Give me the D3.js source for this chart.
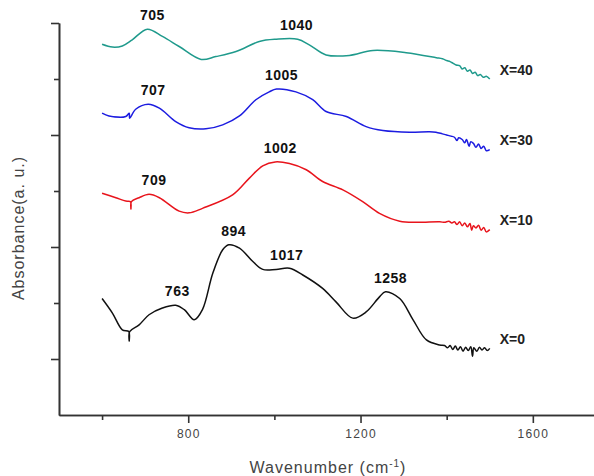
<!DOCTYPE html>
<html>
<head>
<meta charset="utf-8">
<script src="https://cdn.jsdelivr.net/npm/d3@7"></script>
<style>
  body { margin: 0; background: #fff; }
  svg { display: block; font-family: Arial, 'Liberation Sans', sans-serif; }
</style>
</head>
<body>
<script>
// DATA: wavenumber (cm-1) and absorbance (a.u., stacked offsets)
const wave40 = [600, 624, 647, 670, 705, 740, 779, 830, 864, 911, 965, 1004, 1054, 1081, 1120, 1174, 1229, 1306, 1376, 1390, 1400, 1408, 1415, 1422, 1430, 1436, 1442, 1448, 1454, 1460, 1466, 1472, 1478, 1485, 1492, 1500];
const abs40 = [6.62, 6.57, 6.59, 6.70, 6.89, 6.76, 6.58, 6.35, 6.40, 6.49, 6.67, 6.71, 6.71, 6.61, 6.43, 6.42, 6.51, 6.47, 6.38, 6.36, 6.33, 6.31, 6.28, 6.25, 6.24, 6.18, 6.20, 6.14, 6.16, 6.10, 6.12, 6.06, 6.08, 6.03, 6.05, 6.00];

const wave30 = [600, 616, 655, 663, 664, 678, 707, 733, 771, 802, 841, 880, 919, 957, 988, 1005, 1050, 1089, 1120, 1167, 1213, 1252, 1314, 1360, 1375, 1390, 1400, 1410, 1418, 1424, 1428, 1436, 1442, 1446, 1452, 1456, 1462, 1468, 1474, 1480, 1486, 1492, 1500];
const abs30 = [5.39, 5.34, 5.33, 5.39, 5.30, 5.46, 5.55, 5.48, 5.24, 5.13, 5.11, 5.18, 5.34, 5.63, 5.77, 5.82, 5.77, 5.63, 5.42, 5.33, 5.15, 5.08, 5.05, 5.06, 5.05, 5.02, 5.00, 4.98, 4.96, 4.90, 4.95, 4.92, 4.86, 4.92, 4.80, 4.88, 4.85, 4.78, 4.84, 4.76, 4.80, 4.72, 4.74];

const wave10 = [600, 632, 655, 666, 667, 668, 686, 709, 733, 779, 802, 833, 903, 942, 973, 1002, 1035, 1074, 1112, 1159, 1205, 1244, 1291, 1330, 1384, 1395, 1405, 1412, 1418, 1424, 1430, 1436, 1442, 1448, 1454, 1458, 1462, 1468, 1474, 1480, 1486, 1492, 1500];
const abs10 = [3.96, 3.88, 3.82, 3.81, 3.68, 3.81, 3.88, 3.94, 3.88, 3.64, 3.61, 3.69, 3.93, 4.23, 4.45, 4.52, 4.49, 4.38, 4.17, 4.02, 3.81, 3.60, 3.46, 3.44, 3.45, 3.44, 3.46, 3.43, 3.45, 3.40, 3.45, 3.38, 3.43, 3.36, 3.42, 3.30, 3.38, 3.34, 3.39, 3.30, 3.35, 3.27, 3.31];

const wave0 = [600, 624, 647, 662, 663, 664, 686, 709, 740, 771, 791, 814, 833, 857, 880, 894, 919, 950, 973, 1004, 1035, 1066, 1112, 1143, 1182, 1213, 1244, 1258, 1291, 1322, 1353, 1384, 1395, 1402, 1408, 1414, 1420, 1426, 1432, 1438, 1444, 1450, 1456, 1460, 1463, 1470, 1476, 1482, 1488, 1494, 1500];
const abs0 = [2.08, 1.82, 1.52, 1.49, 1.32, 1.49, 1.61, 1.79, 1.91, 1.96, 1.88, 1.70, 1.88, 2.53, 2.95, 3.04, 2.98, 2.74, 2.60, 2.60, 2.62, 2.50, 2.26, 2.02, 1.73, 1.84, 2.11, 2.20, 2.08, 1.70, 1.34, 1.25, 1.24, 1.20, 1.24, 1.17, 1.23, 1.16, 1.22, 1.14, 1.21, 1.15, 1.22, 1.05, 1.20, 1.14, 1.21, 1.16, 1.20, 1.15, 1.19];

const seriesNames = ['X=40', 'X=30', 'X=10', 'X=0'];
const seriesColors = ['#1f9a8c', '#1c1ce0', '#e8141c', '#111111'];
const seriesWaves = [wave40, wave30, wave10, wave0];
const seriesAbs = [abs40, abs30, abs10, abs0];

// peak annotations: [series index, wavenumber label]
const peakSeries = [0, 0, 1, 1, 2, 2, 3, 3, 3, 3];
const peakWaves = [705, 1040, 707, 1005, 709, 1002, 763, 894, 1017, 1258];

const xMajor = [800, 1200, 1600];
const xMinor = [600, 1000, 1400];
const yMajor = [1, 3, 5, 7];
const yMinor = [2, 4, 6];

// CONFIGURATION
const width = 594;
const height = 476;

const svg = d3.select('body')
	.append('svg')
	.attr('width', width)
	.attr('height', height);

const xScale = d3.scaleLinear()
	.domain([500, 1742])
	.range([59, 594]);
const yScale = d3.scaleLinear()
	.domain([0, 7])
	.range([415, 23]);

// AXES
const axisColor = '#333';
const xAxisG = svg.append('g').attr('transform', 'translate(0,415)');
xAxisG.append('g')
	.call(d3.axisBottom(xScale).tickValues(xMinor).tickSize(5).tickSizeOuter(0).tickFormat(''));
xAxisG.append('g')
	.call(d3.axisBottom(xScale).tickValues(xMajor).tickSize(8).tickSizeOuter(0).tickPadding(6).tickFormat(d3.format('d')))
	.selectAll('text')
	.style('font-size', '12px')
	.style('letter-spacing', '1.2px')
	.attr('fill', '#444');

const yAxisG = svg.append('g').attr('transform', 'translate(59,0)');
yAxisG.append('g')
	.call(d3.axisLeft(yScale).tickValues(yMinor).tickSize(5).tickSizeOuter(0).tickFormat(''));
yAxisG.append('g')
	.call(d3.axisLeft(yScale).tickValues(yMajor).tickSize(8).tickSizeOuter(0).tickFormat(''));

svg.selectAll('.domain, .tick line')
	.attr('stroke', axisColor)
	.attr('stroke-width', 1.6);

// AXIS TITLES
const xTitle = svg.append('text')
	.attr('x', 328)
	.attr('y', 473)
	.attr('text-anchor', 'middle')
	.attr('fill', '#444')
	.style('font-size', '16px')
	.style('letter-spacing', '1px');
xTitle.append('tspan').text('Wavenumber (cm');
xTitle.append('tspan').attr('dy', -6).style('font-size', '10px').text('-1');
xTitle.append('tspan').attr('dy', 6).text(')');

svg.append('text')
	.attr('transform', 'translate(24,228) rotate(-90)')
	.attr('text-anchor', 'middle')
	.attr('fill', '#444')
	.style('font-size', '16px')
	.style('letter-spacing', '1px')
	.text('Absorbance(a. u.)');

// CURVES
const line = d3.line()
	.x(d => xScale(d[0]))
	.y(d => yScale(d[1]))
	.curve(d3.curveCatmullRom.alpha(0.5));

seriesNames.forEach((name, i) => {
	const points = seriesWaves[i].map((w, j) => [w, seriesAbs[i][j]]);
	svg.append('path')
		.datum(points)
		.attr('fill', 'none')
		.attr('stroke', seriesColors[i])
		.attr('stroke-width', 1.5)
		.attr('stroke-linejoin', 'round')
		.attr('d', line);

	const last = points[points.length - 1];
	svg.append('text')
		.attr('x', xScale(last[0]) + 10)
		.attr('y', yScale(last[1]) - 8)
		.attr('dominant-baseline', 'middle')
		.attr('fill', '#222')
		.style('font-size', '14px')
		.style('font-weight', 'bold')
		.text(name);
});

// PEAK LABELS
peakWaves.forEach((w, k) => {
	const s = peakSeries[k];
	const waves = seriesWaves[s];
	let idx = 0;
	waves.forEach((v, j) => { if (Math.abs(v - w) < Math.abs(waves[idx] - w)) idx = j; });
	svg.append('text')
		.attr('x', xScale(w) + 5)
		.attr('y', yScale(seriesAbs[s][idx]) - 9)
		.attr('text-anchor', 'middle')
		.attr('fill', '#111')
		.style('font-size', '14px')
		.style('font-weight', 'bold')
		.style('letter-spacing', '0.5px')
		.text(w);
});
</script>
</body>
</html>
